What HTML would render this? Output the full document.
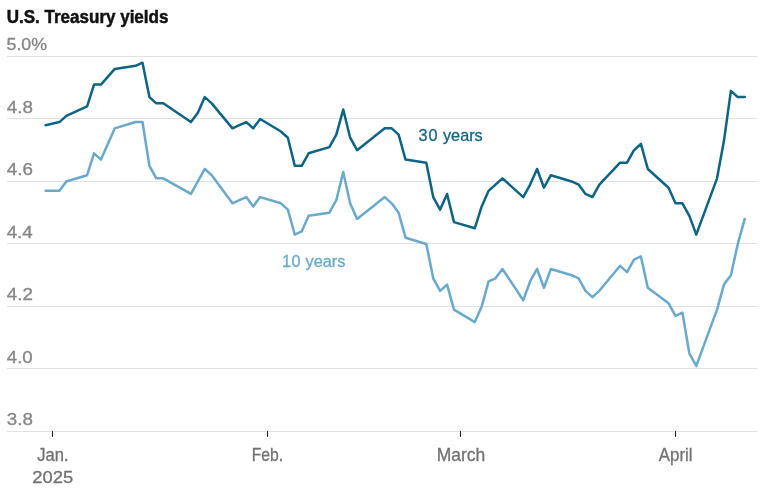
<!DOCTYPE html>
<html lang="en">
<head>
<meta charset="utf-8">
<title>U.S. Treasury yields</title>
<style>
html,body{margin:0;padding:0;background:#fff;}
body{width:782px;height:494px;overflow:hidden;font-family:"Liberation Sans",Arial,sans-serif;}
svg{display:block;}
.title{font-weight:700;fill:#121212;stroke:#121212;stroke-width:0.5;}
.grid rect{fill:#e2e2e2;shape-rendering:crispEdges;}
.ticks rect{fill:#222;shape-rendering:crispEdges;}
.ylab text{fill:#868686;stroke:#868686;stroke-width:0.3;}
.xlab text{fill:#727272;stroke:#727272;stroke-width:0.3;}
.ln{fill:none;stroke-width:2.5;stroke-linejoin:round;stroke-linecap:round;}
.l30{stroke:#0e6485;}
.l10{stroke:#68a9cc;}
.t30{fill:#156584;stroke:#156584;stroke-width:0.3;}
.t10{fill:#68a9cc;stroke:#68a9cc;stroke-width:0.3;}
</style>
</head>
<body>
<svg width="782" height="494" viewBox="0 0 782 494" font-family="Liberation Sans, Arial, sans-serif">
<rect width="782" height="494" fill="#fff"/>
<text class="title" transform="translate(6.76,22.70) scale(0.9456,1)" font-size="18">U.S. Treasury yields</text>

<g class="grid">
<rect x="7" y="56" width="750" height="1"/>
<rect x="7" y="118" width="750" height="1"/>
<rect x="7" y="181" width="750" height="1"/>
<rect x="7" y="243" width="750" height="1"/>
<rect x="7" y="306" width="750" height="1"/>
<rect x="7" y="368" width="750" height="1"/>
<rect x="7" y="431" width="750" height="1"/>
</g>
<g class="ylab">
<text transform="translate(6.55,50.00) scale(1.0771,1)" font-size="16.5">5.0%</text>
<text transform="translate(6.73,112.50) scale(1.1754,1)" font-size="16">4.8</text>
<text transform="translate(6.73,175.00) scale(1.1754,1)" font-size="16">4.6</text>
<text transform="translate(6.73,237.50) scale(1.1682,1)" font-size="16">4.4</text>
<text transform="translate(6.73,300.00) scale(1.1762,1)" font-size="16">4.2</text>
<text transform="translate(6.73,362.50) scale(1.1698,1)" font-size="16">4.0</text>
<text transform="translate(6.80,425.00) scale(1.1722,1)" font-size="16">3.8</text>
</g>
<g class="ticks">
<rect x="52" y="431" width="1" height="6"/>
<rect x="267" y="431" width="1" height="6"/>
<rect x="460" y="431" width="1" height="6"/>
<rect x="675" y="431" width="1" height="6"/>
</g>
<g class="xlab">
<text transform="translate(37.32,461.00) scale(0.9455,1)" font-size="17.5">Jan.</text>
<text transform="translate(251.69,461.00) scale(0.8723,1)" font-size="18">Feb.</text>
<text transform="translate(436.74,461.00) scale(0.9704,1)" font-size="18">March</text>
<text transform="translate(658.81,461.00) scale(0.9366,1)" font-size="18">April</text>
<text transform="translate(32.32,483.00) scale(1.1008,1)" font-size="16.7">2025</text>
</g>
<path class="ln l10" d="M45.58,190.82 L59.42,190.82 L66.34,181.45 L87.11,175.20 L94.03,153.32 L100.96,159.58 L114.80,128.33 L135.57,122.07 L142.49,122.07 L149.41,165.82 L156.33,178.32 L163.26,178.32 L190.94,193.95 L197.87,181.45 L204.79,168.95 L211.71,175.20 L232.48,203.32 L239.40,200.20 L246.32,197.08 L253.24,206.45 L260.17,197.08 L280.93,203.32 L287.86,209.58 L294.78,234.58 L301.70,231.45 L308.62,215.82 L329.39,212.70 L336.31,200.20 L343.23,172.08 L350.16,203.32 L357.08,218.95 L384.77,197.08 L391.69,203.32 L398.61,212.70 L405.53,237.70 L426.30,243.95 L433.22,278.32 L440.14,290.82 L447.07,284.58 L453.99,309.57 L474.76,322.07 L481.68,306.45 L488.60,281.45 L495.52,278.32 L502.44,268.95 L523.21,300.20 L530.13,281.45 L537.06,268.95 L543.98,287.70 L550.90,268.95 L571.67,275.20 L578.59,278.32 L585.51,290.82 L592.43,297.07 L599.36,290.82 L620.12,265.82 L627.04,272.08 L633.97,259.58 L640.89,256.45 L647.81,287.70 L668.58,303.32 L675.50,315.82 L682.42,312.70 L689.34,353.33 L696.27,365.83 L717.03,309.57 L723.96,284.58 L730.88,275.20 L737.80,243.95 L744.72,218.95"/>
<path class="ln l30" d="M45.58,125.20 L59.42,122.07 L66.34,115.83 L87.11,106.45 L94.03,84.57 L100.96,84.57 L114.80,68.95 L135.57,65.83 L142.49,62.70 L149.41,97.07 L156.33,103.33 L163.26,103.33 L190.94,122.07 L197.87,112.70 L204.79,97.07 L211.71,103.33 L232.48,128.33 L239.40,125.20 L246.32,122.07 L253.24,128.33 L260.17,118.95 L280.93,131.45 L287.86,137.70 L294.78,165.82 L301.70,165.82 L308.62,153.32 L329.39,147.08 L336.31,134.57 L343.23,109.57 L350.16,137.70 L357.08,150.20 L384.77,128.33 L391.69,128.33 L398.61,134.57 L405.53,159.58 L426.30,162.70 L433.22,197.08 L440.14,209.58 L447.07,193.95 L453.99,222.08 L474.76,228.32 L481.68,206.45 L488.60,190.82 L495.52,184.58 L502.44,178.32 L523.21,197.08 L530.13,184.58 L537.06,168.95 L543.98,187.70 L550.90,175.20 L571.67,181.45 L578.59,184.58 L585.51,193.95 L592.43,197.08 L599.36,184.58 L620.12,162.70 L627.04,162.70 L633.97,150.20 L640.89,143.95 L647.81,168.95 L668.58,187.70 L675.50,203.32 L682.42,203.32 L689.34,215.82 L696.27,234.58 L717.03,178.32 L723.96,140.82 L730.88,90.83 L737.80,97.07 L744.72,97.07"/>
<text class="t30" transform="translate(418.59,141.00) scale(1.0161,1)" font-size="16"><tspan letter-spacing="0.9">30</tspan> years</text>
<text class="t10" transform="translate(281.98,267.00) scale(1.0182,1)" font-size="16"><tspan letter-spacing="0.5">10</tspan> years</text>

</svg>
</body>
</html>
